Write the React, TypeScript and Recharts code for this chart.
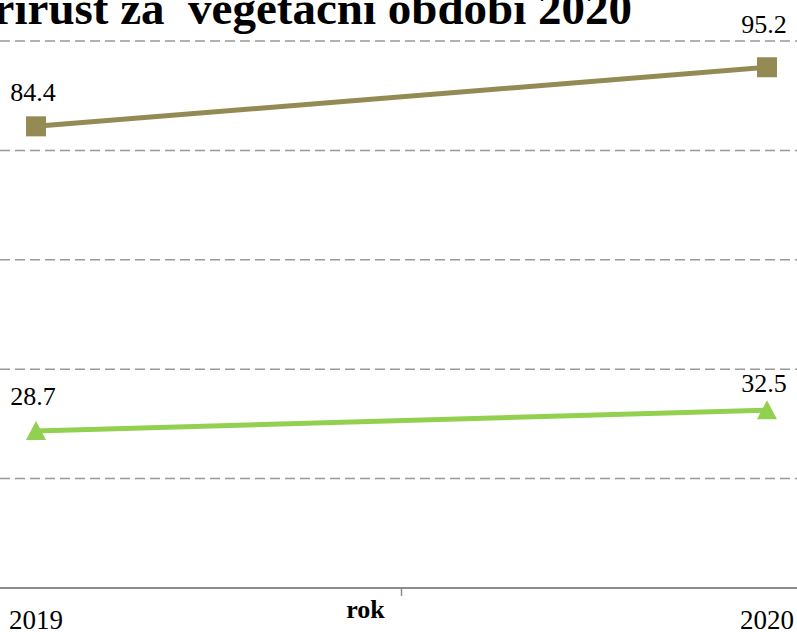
import React from 'react';
import { LineChart, Line, XAxis, YAxis, CartesianGrid, LabelList } from 'recharts';

const years = [2019, 2020];
const seriesA = [84.4, 95.2];
const seriesB = [28.7, 32.5];
const yTicks = [0, 20, 40, 60, 80, 100];
const xTicks = [2019, 2019.5, 2020];

const TITLE = 'Přírůst za  vegetační období 2020';
const X_TITLE = 'rok';
const OLIVE = '#948A54';
const GREEN = '#92D050';
const SERIF = "'Liberation Serif', 'Times New Roman', serif";

// how far above each point its value label sits (px), per point
const LABEL_RISE_A = [25, 34];
const LABEL_RISE_B = [26, 18];

const data = years.map((year, i) => ({ year, a: seriesA[i], b: seriesB[i] }));

const SquareDot = (props: any) => {
    const { cx, cy } = props;
    if (cx == null || cy == null) return null;
    return <rect x={cx - 10} y={cy - 10} width={20} height={20} fill={OLIVE} />;
};

const TriangleDot = (props: any) => {
    const { cx, cy } = props;
    if (cx == null || cy == null) return null;
    return <path d={`M${cx},${cy - 10} L${cx + 10},${cy + 9} L${cx - 10},${cy + 9} Z`} fill={GREEN} />;
};

const makeLabel = (rise: number[]) => (props: any) => {
    const { x, y, value, index } = props;
    return (
        <text x={x - 3} y={y - rise[index]} textAnchor="middle" style={{ fontFamily: SERIF, fontSize: 26 }} fill="#000">
            {Number(value).toFixed(1)}
        </text>
    );
};
const LabelA = makeLabel(LABEL_RISE_A);
const LabelB = makeLabel(LABEL_RISE_B);

const YearTick = (props: any) => {
    const { x, y, payload } = props;
    if (payload.value % 1 !== 0) {
        return <line x1={x} x2={x} y1={y - 8} y2={y} stroke="#8c8c8c" strokeWidth={1.5} />;
    }
    return (
        <text x={x} y={y + 33} textAnchor="middle" style={{ fontFamily: SERIF, fontSize: 27 }} fill="#000">
            {payload.value}
        </text>
    );
};

const AxisTitle = (props: any) => {
    const { viewBox } = props;
    const cx = viewBox.x + viewBox.width / 2 - 33;
    return (
        <text x={cx} y={viewBox.y + 30} textAnchor="middle" style={{ fontFamily: SERIF, fontSize: 26, fontWeight: 'bold' }} fill="#000">
            {X_TITLE}
        </text>
    );
};

const App: React.FC = () => {
    return (
        <div style={{ position: 'absolute', left: 0, top: 0, width: 797, height: 632, overflow: 'hidden', background: '#fff' }}>
            <LineChart width={797} height={632} data={data} margin={{ top: 41, right: 0, bottom: 0, left: 0 }}>
                <CartesianGrid horizontal vertical={false} stroke="#999999" strokeWidth={1.5} strokeDasharray="10 5" />
                <XAxis
                    dataKey="year"
                    type="number"
                    domain={[2019, 2020]}
                    ticks={xTicks}
                    padding={{ left: 36, right: 30 }}
                    height={44}
                    stroke="#8c8c8c"
                    strokeWidth={2}
                    tickLine={false}
                    tick={<YearTick />}
                    label={<AxisTitle />}
                />
                <YAxis hide domain={[0, 100]} ticks={yTicks} />
                <Line dataKey="a" stroke={OLIVE} strokeWidth={5} dot={<SquareDot />} activeDot={false} isAnimationActive={false}>
                    <LabelList dataKey="a" content={<LabelA />} />
                </Line>
                <Line dataKey="b" stroke={GREEN} strokeWidth={5} dot={<TriangleDot />} activeDot={false} isAnimationActive={false}>
                    <LabelList dataKey="b" content={<LabelB />} />
                </Line>
            </LineChart>
            <svg width={797} height={632} style={{ position: 'absolute', left: 0, top: 0, pointerEvents: 'none' }}>
                <text x={632} y={24} textAnchor="end" fill="#000" style={{ fontFamily: SERIF, fontSize: 47, fontWeight: 'bold', whiteSpace: 'pre' }}>
                    {TITLE}
                </text>
            </svg>
        </div>
    );
};

export default App;
